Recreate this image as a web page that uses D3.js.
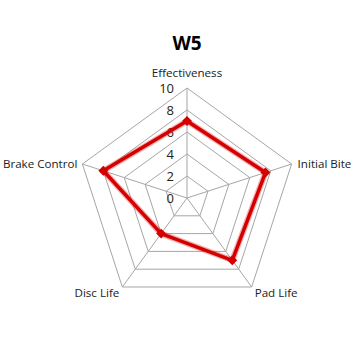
<!DOCTYPE html>
<html>
<head>
<meta charset="utf-8">
<script src="https://cdn.jsdelivr.net/npm/d3@7"></script>
<style>
  body { margin: 0; background: #fff; }
  text { font-family: "Open Sans", "DejaVu Sans", sans-serif; fill: #222; }
</style>
</head>
<body>
<div id="chart"></div>
<script>
// W5 scores per attribute
var axes = ["Effectiveness", "Initial Bite", "Pad Life", "Disc Life", "Brake Control"];
var values = [7, 7.5, 7, 4, 8];
var ticks = [0, 2, 4, 6, 8, 10];

var W = 354, H = 354;
var cx = 187, cy = 198, R = 110;

var svg = d3.select("#chart").append("svg")
    .attr("width", W)
    .attr("height", H);

var r = d3.scaleLinear().domain([0, 10]).range([0, R]);
var ang = d3.scalePoint().domain(axes.concat(["_end"])).range([0, 2 * Math.PI]);

function pt(name, v) {
    var a = ang(name);
    return [cx + r(v) * Math.sin(a), cy - r(v) * Math.cos(a)];
}

var g = svg.append("g");

// grid rings
ticks.filter(function(t) { return t > 0; }).forEach(function(t) {
    g.append("polygon")
        .attr("points", axes.map(function(a) { return pt(a, t).join(","); }).join(" "))
        .attr("fill", "none")
        .attr("stroke", "#a6a6a6")
        .attr("stroke-width", 1);
});

// spokes
axes.forEach(function(a) {
    var p = pt(a, 10);
    g.append("line")
        .attr("x1", cx).attr("y1", cy)
        .attr("x2", p[0]).attr("y2", p[1])
        .attr("stroke", "#a6a6a6")
        .attr("stroke-width", 1);
});

// tick labels along top axis
ticks.forEach(function(t) {
    g.append("text")
        .attr("x", cx - 13)
        .attr("y", cy - r(t) + 5)
        .attr("text-anchor", "end")
        .style("font-size", "13px")
        .text(t);
});

// series line
var line = d3.line().curve(d3.curveLinearClosed);
var pts = axes.map(function(a, i) { return pt(a, values[i]); });

g.append("path")
    .attr("d", line(pts))
    .attr("fill", "none")
    .attr("stroke", "#e41a1c")
    .attr("stroke-opacity", 0.35)
    .attr("stroke-width", 6)
    .attr("stroke-linejoin", "round");

g.append("path")
    .attr("d", line(pts))
    .attr("fill", "none")
    .attr("stroke", "#d40000")
    .attr("stroke-width", 3.5)
    .attr("stroke-linejoin", "round");

g.selectAll(".dot")
    .data(pts)
    .enter()
    .append("rect")
    .attr("x", function(d) { return d[0] - 3.5; })
    .attr("y", function(d) { return d[1] - 3.5; })
    .attr("width", 7)
    .attr("height", 7)
    .attr("fill", "#d40000")
    .attr("transform", function(d) { return "rotate(45," + d[0] + "," + d[1] + ")"; });

// axis names
var labelPos = {
    "Effectiveness": { dx: 0, dy: -11, anchor: "middle" },
    "Initial Bite": { dx: 6, dy: 4, anchor: "start" },
    "Pad Life": { dx: 3, dy: 10, anchor: "start" },
    "Disc Life": { dx: -3, dy: 10, anchor: "end" },
    "Brake Control": { dx: -5, dy: 4, anchor: "end" }
};
axes.forEach(function(a) {
    var p = pt(a, 10);
    var o = labelPos[a];
    svg.append("text")
        .attr("x", p[0] + o.dx)
        .attr("y", p[1] + o.dy)
        .attr("text-anchor", o.anchor)
        .style("font-size", "11.6px")
        .text(a);
});

// title
svg.append("text")
    .attr("x", 187)
    .attr("y", 50)
    .attr("text-anchor", "middle")
    .style("font-size", "19px")
    .style("font-weight", "bold")
    .style("fill", "#000")
    .text("W5");
</script>
</body>
</html>
